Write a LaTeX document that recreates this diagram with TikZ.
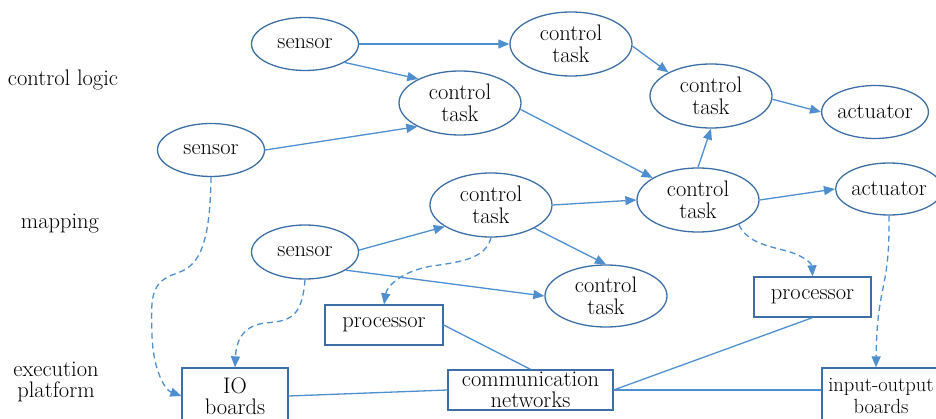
\documentclass[tikz,border=0pt]{standalone}
\usetikzlibrary{shapes.geometric,arrows.meta}
\definecolor{nodeblue}{HTML}{3D6FA6}
\definecolor{linkblue}{HTML}{4F8FCF}
\tikzset{
  base/.style={font=\fontsize{22.5}{21.5}\selectfont, align=center, text=black},
  task/.style={base, ellipse, draw=nodeblue, line width=1.3pt, inner sep=0pt,
               minimum width=122pt, minimum height=64pt},
  sens/.style={task, minimum width=107pt, minimum height=53pt},
  boxnode/.style={base, rectangle, draw=nodeblue, line width=1.3pt, inner sep=0pt,
                  minimum height=40pt},
  flow/.style={draw=linkblue, line width=1.3pt, -{Triangle[length=11pt,width=9pt]}},
  mapto/.style={flow, dash pattern=on 6pt off 4pt},
  link/.style={draw=linkblue, line width=1.3pt},
  layer/.style={base}
}
\begin{document}
\begin{tikzpicture}[x=1pt,y=-1pt]
\useasboundingbox (0,0) rectangle (936,419);

% layer titles
\node[layer] (lcl) at (63,80) {control logic};
\node[layer] (lmap) at (60,224) {mapping};
\node[layer] (lexe) at (56,382) {execution\\platform};

% control logic layer
\node[sens] (s1) at (305,44) {sensor};
\node[task] (ctA) at (571,44) {control\\task};
\node[task] (ctB) at (460,103) {control\\task};
\node[sens] (s2) at (211,150) {sensor};
\node[task] (ctC) at (711,96) {control\\task};
\node[sens, minimum width=105pt] (a1) at (875,112) {actuator};

% mapping layer
\node[task] (ctD) at (698,200) {control\\task};
\node[sens, minimum width=104pt, minimum height=52pt] (a2) at (889,189) {actuator};
\node[task] (ctE) at (491,205) {control\\task};
\node[sens, minimum height=54pt] (s3) at (305,252) {sensor};
\node[task, minimum height=62pt] (ctF) at (606,296) {control\\task};

% execution platform
\node[boxnode, minimum width=118pt] (p1) at (384,325) {processor};
\node[boxnode, minimum width=117pt] (p2) at (812.5,297) {processor};
\node[boxnode, minimum width=106pt, minimum height=56pt] (io) at (235,396) {IO\\boards};
\node[boxnode, minimum width=165pt] (comm) at (530.5,390) {communication\\networks};
\node[boxnode, minimum width=118pt, minimum height=56pt,
      font=\fontsize{20.5}{21.5}\selectfont] (inout) at (881,396) {input-output\\boards};

% data flow between tasks
\draw[flow] (s1.east) -- (ctA.west);
\draw[flow] (s1.-25) -- (ctB.150);
\draw[flow] (s2.east) -- (ctB.209);
\draw[flow] (ctA.-2) -- (ctC.151);
\draw[flow] (ctB.-6) -- (ctD.154);
\draw[flow] (ctC.-3) -- (a1.west);
\draw[flow] (ctD.north) -- (ctC.south);
\draw[flow] (ctD.east) -- (a2.west);
\draw[flow] (ctE.east) -- (ctD.west);
\draw[flow] (s3.2) -- (ctE.205);
\draw[flow] (s3.-24) -- (ctF.west);
\draw[flow] (ctE.-28) -- (ctF.north);

% mapping onto the platform
\draw[mapto] (s2.south) .. controls (210,262) and (192,268) .. (172,275)
  .. controls (150,284) and (151,300) .. (152,335)
  .. controls (153,370) and (165,390) .. (io.west);
\draw[mapto] (s3.south) .. controls (302,318) and (290,321) .. (265,323)
  .. controls (240,326) and (236,345) .. (io.north);
\draw[mapto] (ctE.south) .. controls (486,258) and (462,262) .. (432,266)
  .. controls (402,271) and (387,286) .. (p1.north);
\draw[mapto] (ctD.-31) .. controls (748,244) and (770,246) .. (790,252)
  .. controls (808,258) and (812,265) .. (p2.north);
\draw[mapto] (a2.south) .. controls (890,292) and (877,282) .. (inout.north -| 876,0);

% platform links
\draw[link] (p1.east) -- (comm.north);
\draw[link] (io.east) -- (comm.west);
\draw[link] (comm.east) -- (p2.south);
\draw[link] (comm.east) -- (comm.east -| inout.west);
\end{tikzpicture}
\end{document}
